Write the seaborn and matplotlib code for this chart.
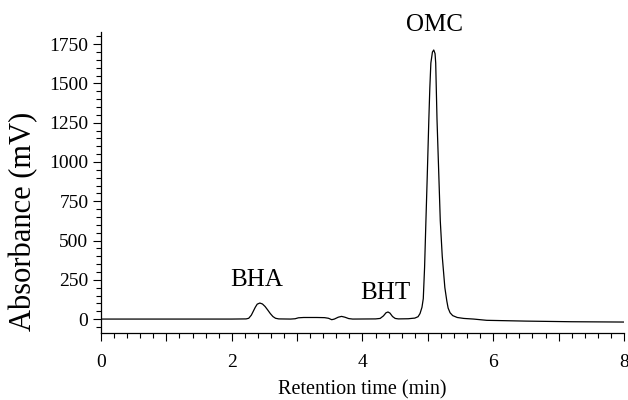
import numpy as np
import pandas as pd
import matplotlib
matplotlib.use("Agg")
import matplotlib.pyplot as plt
import seaborn as sns
from matplotlib.ticker import MultipleLocator, FuncFormatter

# Chromatogram points (time in min, signal in mV)
time_min = [0.0, 1.0, 2.0, 2.22,
            2.26, 2.30, 2.33, 2.36, 2.39, 2.43, 2.47, 2.51, 2.55, 2.59, 2.63, 2.67, 2.72, 2.90,
            2.97, 3.02, 3.10, 3.30, 3.42, 3.48, 3.53, 3.57, 3.63, 3.68, 3.73, 3.79, 3.85,
            4.20, 4.27, 4.32, 4.36, 4.39, 4.42, 4.46, 4.50, 4.55, 4.70,
            4.77, 4.80, 4.85, 4.88, 4.91, 4.93, 4.95, 4.97, 4.99, 5.015, 5.03, 5.046, 5.07, 5.09,
            5.11, 5.12, 5.14, 5.165, 5.19, 5.22, 5.26, 5.29, 5.31, 5.34, 5.38, 5.45, 5.55, 5.70,
            5.90, 6.50, 7.20, 8.00]
absorbance_mv = [0, 0, 0, 1,
                 5, 25, 50, 75, 95, 102, 96, 80, 58, 35, 16, 5, 1, 0,
                 2, 8, 10, 10, 9, 5, -4, 0, 12, 17, 12, 3, 0,
                 1, 4, 20, 40, 45, 38, 16, 4, 1, 2,
                 5, 6, 15, 35, 75, 130, 330, 620, 900, 1270, 1470, 1630, 1700, 1713,
                 1690, 1630, 1270, 950, 626, 400, 200, 115, 70, 40, 22, 10, 4, 0,
                 -8, -13, -17, -19]

peak_names = ["BHA", "BHT", "OMC"]
peak_label_x = [2.38, 4.35, 5.10]
peak_label_y = [251, 168, 1870]

df = pd.DataFrame({"time": time_min, "signal": absorbance_mv})

sns.set_style("ticks")
plt.rcParams["font.family"] = ["Liberation Serif", "DejaVu Serif"]
plt.rcParams["text.color"] = "black"
plt.rcParams["axes.labelcolor"] = "black"
plt.rcParams["xtick.color"] = "black"
plt.rcParams["ytick.color"] = "black"

fig = plt.figure(figsize=(6.28, 4.0), dpi=100)
ax = fig.add_axes([0.1608, 0.167, 0.8328, 0.754])

sns.lineplot(data=df, x="time", y="signal", color="black", linewidth=0.9,
             estimator=None, sort=False, ax=ax)

for name, lx, ly in zip(peak_names, peak_label_x, peak_label_y):
    ax.text(lx, ly, name, ha="center", va="center", fontsize=18, clip_on=False)

ax.set_xlim(0, 8)
ax.set_ylim(-90, 1830)
ax.xaxis.set_major_locator(MultipleLocator(1))
ax.xaxis.set_minor_locator(MultipleLocator(0.2))
ax.xaxis.set_major_formatter(FuncFormatter(lambda v, p: "%d" % v if int(round(v)) % 2 == 0 else ""))
ax.yaxis.set_major_locator(MultipleLocator(250))
ax.yaxis.set_minor_locator(MultipleLocator(50))

ax.tick_params(axis="both", which="major", length=6, width=0.8, labelsize=14, color="black")
ax.tick_params(axis="both", which="minor", length=3.3, width=0.8, color="black")
ax.tick_params(axis="x", which="major", pad=9)
ax.tick_params(axis="y", which="major", pad=3)

sns.despine(ax=ax)
for s in ["left", "bottom"]:
    ax.spines[s].set_linewidth(0.9)
    ax.spines[s].set_color("black")

ax.set_xlabel("Retention time (min)", fontsize=14.5)
ax.set_ylabel("Absorbance (mV)", fontsize=22)
ax.yaxis.set_label_coords(-0.12, 0.37)
ax.xaxis.set_label_coords(0.5, -0.155)

fig.savefig("out.png", dpi=100)
